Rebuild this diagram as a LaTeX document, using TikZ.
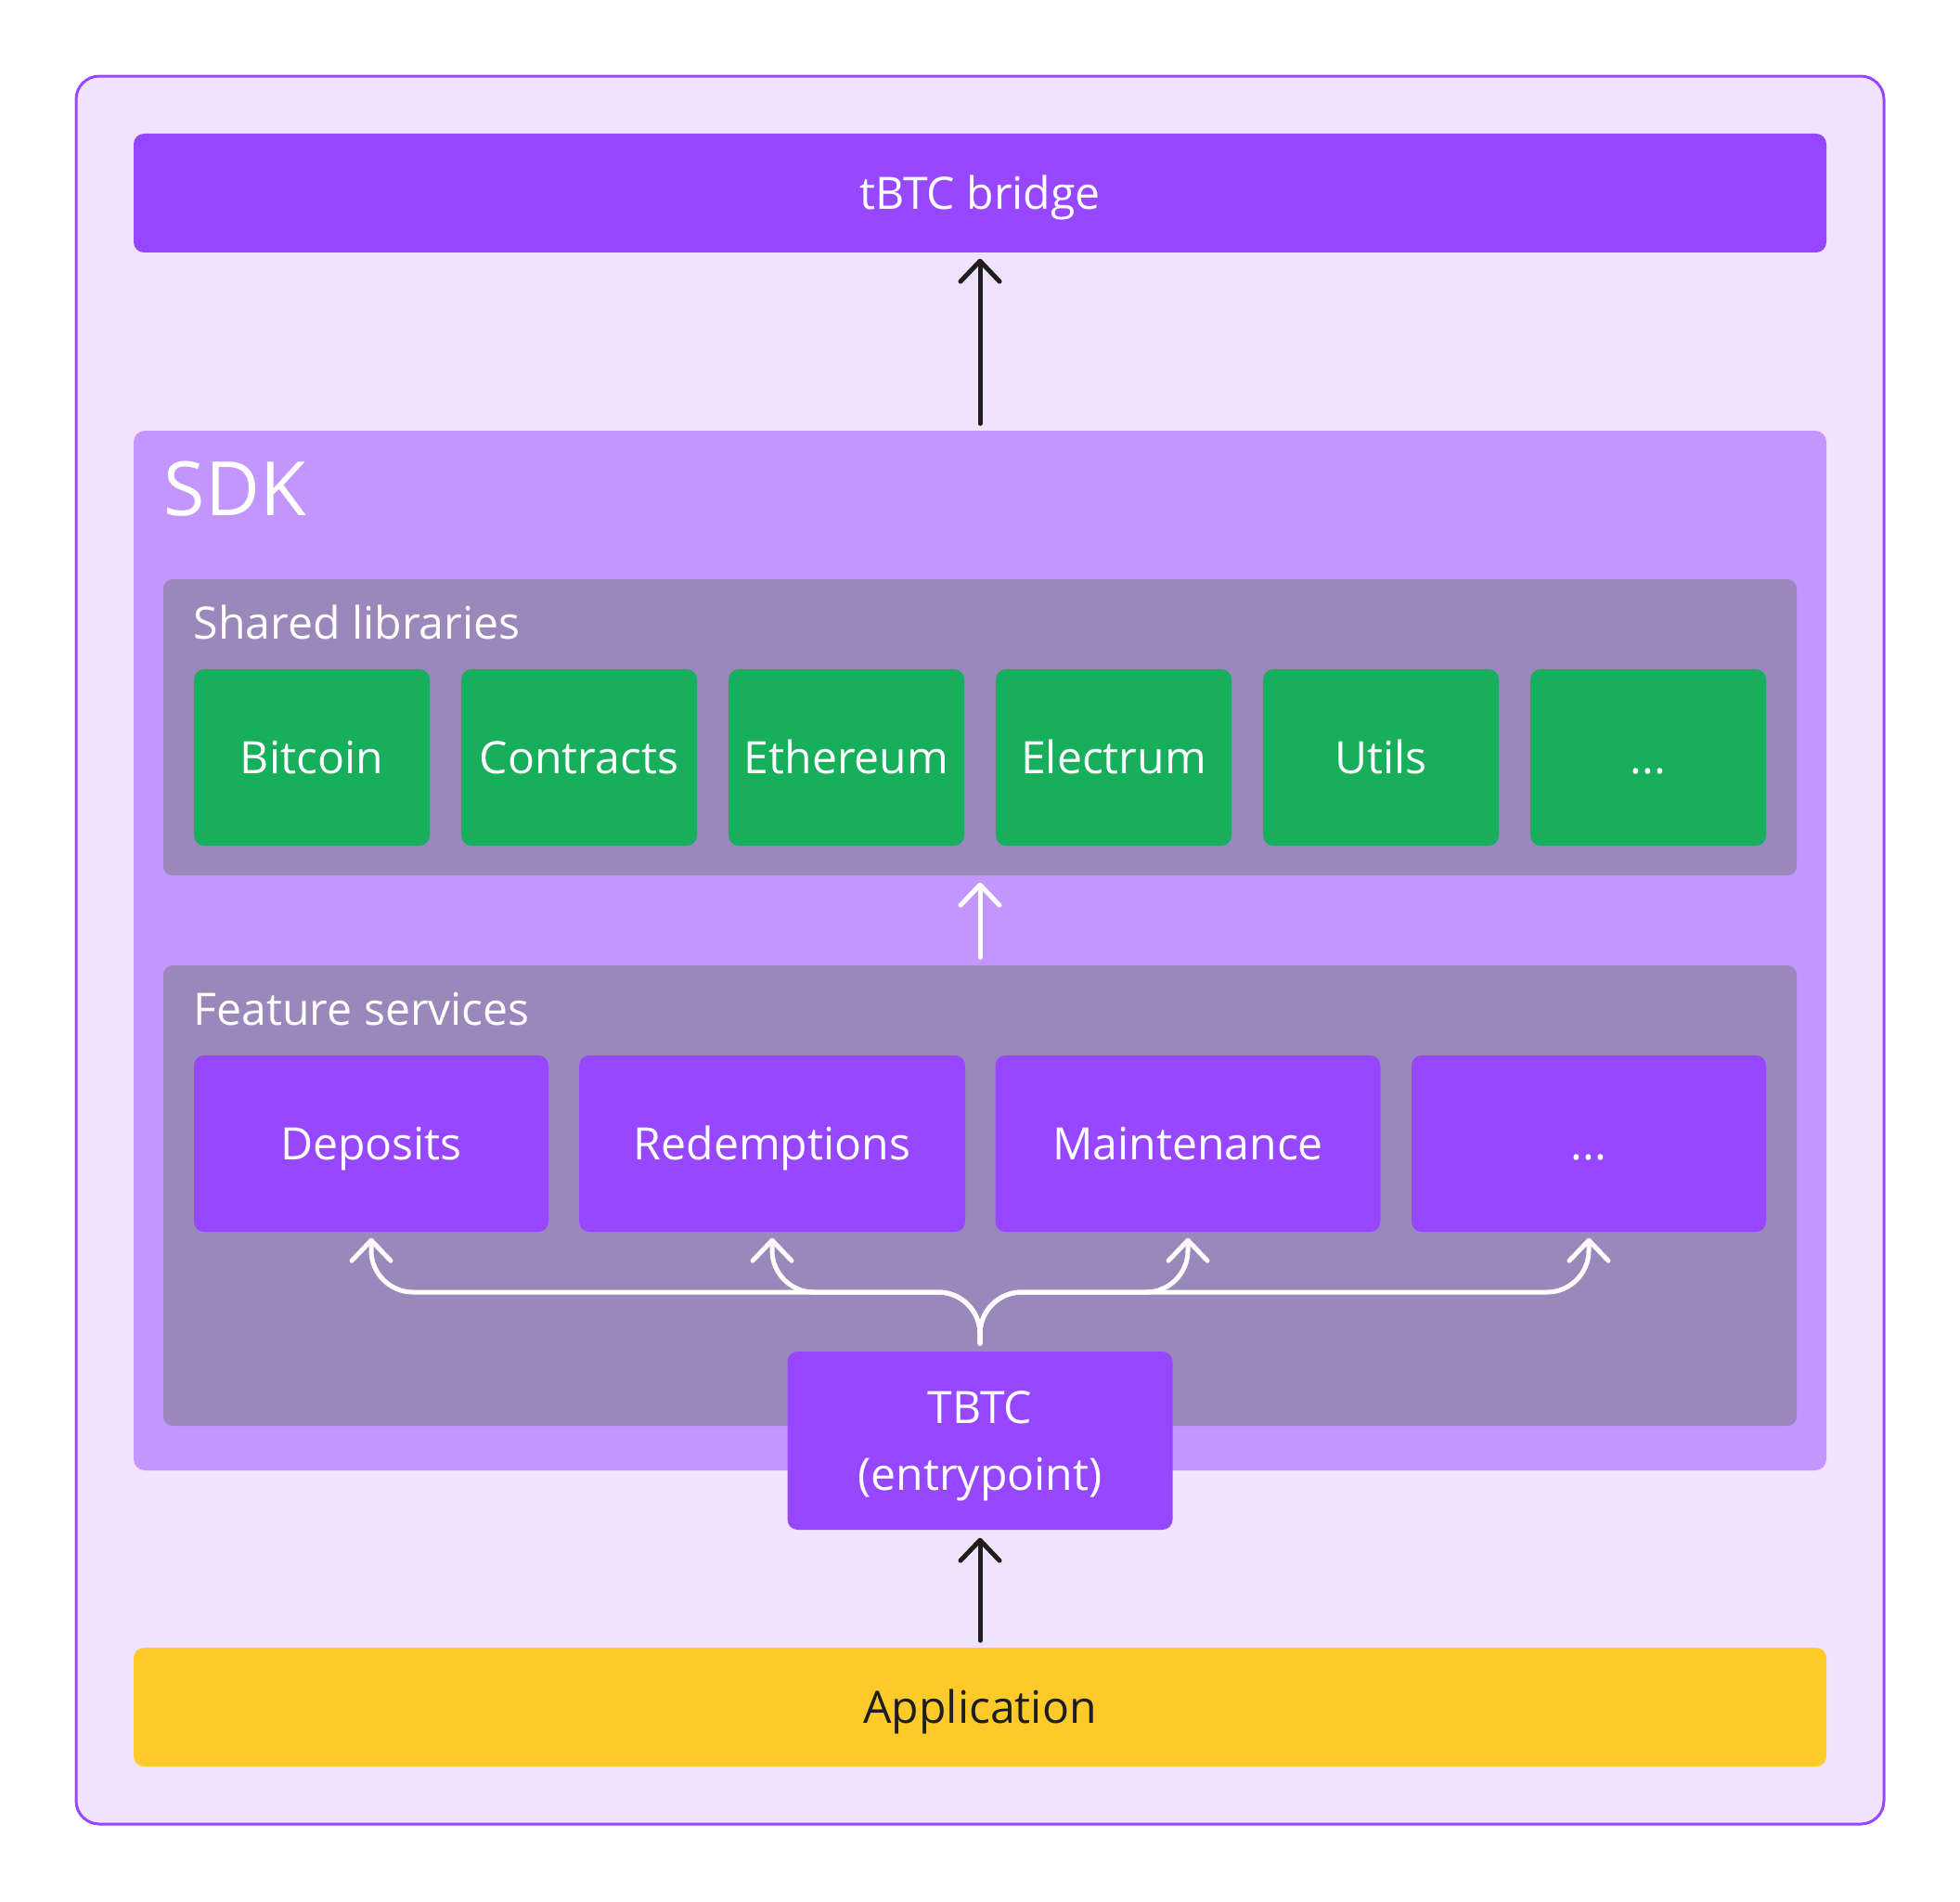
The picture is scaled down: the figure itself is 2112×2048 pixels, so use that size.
\documentclass[tikz,border=0pt]{standalone}
\usepackage{fontspec}
\setmainfont{Open Sans}
\usetikzlibrary{arrows.meta}

\definecolor{frameback}{HTML}{F1E3FE}
\definecolor{violet}{HTML}{9747FF}
\definecolor{sdkback}{HTML}{C396FD}
\definecolor{groupback}{HTML}{9B88BA}
\definecolor{libgreen}{HTML}{17AE5C}
\definecolor{appyellow}{HTML}{FCCB2A}
\definecolor{ink}{HTML}{1E1E1E}

\begin{document}
\begin{tikzpicture}[x=0.1mm,y=-0.1mm,
  box/.style={rectangle, rounded corners=1.1mm, inner sep=0pt, text=white,
    text height=3.5mm, text depth=0pt,
    font=\fontsize{13.7pt}{20.5pt}\selectfont},
  lib/.style={box, fill=libgreen, minimum width=25.4mm, minimum height=19mm},
  feat/.style={box, fill=violet, minimum height=19mm},
  group/.style={rectangle, rounded corners=1mm, fill=groupback, inner sep=0pt,
    minimum width=176mm},
  grouplabel/.style={anchor=base west, inner sep=0pt, text=white,
    font=\fontsize{13.7pt}{20.5pt}\selectfont},
  darrow/.style={draw=ink, line width=0.5mm, line cap=round,
    -{Straight Barb[length=2.2mm,width=4.2mm,round]}},
  warrow/.style={draw=white, line width=0.5mm, line cap=round,
    -{Straight Barb[length=2.2mm,width=4.2mm,round]}}]

\useasboundingbox[fill=white] (0,0) rectangle (2112,2048);

% outer frame
\node[rectangle, rounded corners=2.5mm, fill=frameback, draw=violet, line width=0.3mm,
  minimum width=194.8mm, minimum height=188.3mm] (frame) at (1056,1023.5) {};

\node[box, fill=violet, minimum width=182.4mm, minimum height=12.8mm] (bridge) at (1056,208) {tBTC bridge};

% SDK
\node[rectangle, rounded corners=1.2mm, fill=sdkback, inner sep=0pt,
  minimum width=182.4mm, minimum height=112mm] (sdk) at (1056,1024) {};
\node[anchor=base west, inner sep=0pt, text=white, font=\fontsize{23pt}{28pt}\selectfont] (sdklabel) at (176,555) {SDK};

% shared libraries
\node[group, minimum height=31.9mm] (shared) at (1056,783.5) {};
\node[grouplabel] (sharedlabel) at (208,688) {Shared libraries};
\node[lib] (btc) at (336,816) {Bitcoin};
\node[lib] (contracts) at (624,816) {Contracts};
\node[lib] (eth) at (912,816) {Ethereum};
\node[lib] (electrum) at (1200,816) {Electrum};
\node[lib] (utils) at (1488,816) {Utils};
\node[lib] (libmore) at (1776,816) {...};

% feature services
\node[group, minimum height=49.6mm] (features) at (1056,1288) {};
\node[grouplabel] (featlabel) at (208,1104) {Feature services};
\node[feat, minimum width=38.2mm] (dep) at (400,1232) {Deposits};
\node[feat, minimum width=41.6mm] (red) at (832,1232) {Redemptions};
\node[feat, minimum width=41.5mm] (mnt) at (1280,1232) {Maintenance};
\node[feat, minimum width=38.2mm] (featmore) at (1712,1232) {...};

\node[box, fill=violet, align=center, text height=10.7mm, minimum width=41.5mm, minimum height=19.2mm] (tbtc) at (1056,1552) {TBTC\\(entrypoint)};

\node[box, fill=appyellow, text=ink, minimum width=182.4mm, minimum height=12.8mm] (app) at (1056,1839) {Application};

% connectors
\draw[darrow, shorten <=0.7mm, shorten >=0.6mm] (sdk.north) -- (bridge.south);
\draw[warrow, shorten <=0.8mm, shorten >=0.7mm] (features.north) -- (shared.south);
\draw[darrow, shorten <=0.7mm, shorten >=0.8mm] (app.north) -- (tbtc.south);

\coordinate (hub) at (1056,1392);
\draw[warrow, rounded corners=4.5mm, shorten <=0.8mm, shorten >=0.6mm] (tbtc.north) -- (hub) -- (hub -| dep.south) -- (dep.south);
\draw[warrow, rounded corners=4.5mm, shorten <=0.8mm, shorten >=0.6mm] (tbtc.north) -- (hub) -- (hub -| red.south) -- (red.south);
\draw[warrow, rounded corners=4.5mm, shorten <=0.8mm, shorten >=0.6mm] (tbtc.north) -- (hub) -- (hub -| mnt.south) -- (mnt.south);
\draw[warrow, rounded corners=4.5mm, shorten <=0.8mm, shorten >=0.6mm] (tbtc.north) -- (hub) -- (hub -| featmore.south) -- (featmore.south);
\end{tikzpicture}
\end{document}
